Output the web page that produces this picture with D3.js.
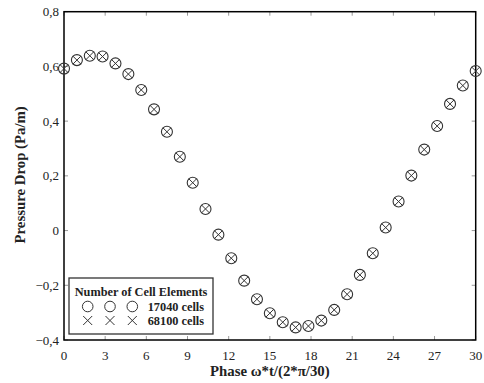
<!DOCTYPE html>
<html>
<head>
<meta charset="utf-8">
<script src="https://cdn.jsdelivr.net/npm/d3@7"></script>
<style>
  body { margin: 0; background: #fff; }
  text { font-family: "Liberation Serif", "Times New Roman", serif; fill: #222; }
</style>
</head>
<body>
<div id="chart"></div>
<script>
// phase positions (33 samples over one period)
const phase = [0, 0.94, 1.88, 2.81, 3.75, 4.69, 5.63, 6.56, 7.5, 8.44, 9.38, 10.31,
  11.25, 12.19, 13.13, 14.06, 15, 15.94, 16.88, 17.81, 18.75, 19.69, 20.63, 21.56,
  22.5, 23.44, 24.38, 25.31, 26.25, 27.19, 28.13, 29.06, 30];

// pressure drop, 17040 cells (circles)
const coarse = [0.592, 0.623, 0.639, 0.636, 0.611, 0.572, 0.514, 0.443, 0.361, 0.270,
  0.175, 0.079, -0.015, -0.101, -0.183, -0.251, -0.302, -0.335, -0.354, -0.349,
  -0.329, -0.290, -0.233, -0.162, -0.083, 0.011, 0.106, 0.201, 0.296, 0.382,
  0.463, 0.530, 0.583];

// pressure drop, 68100 cells (crosses)
const fine = [0.592, 0.623, 0.639, 0.636, 0.611, 0.572, 0.514, 0.443, 0.361, 0.270,
  0.175, 0.079, -0.015, -0.101, -0.183, -0.251, -0.302, -0.335, -0.354, -0.349,
  -0.329, -0.290, -0.233, -0.162, -0.083, 0.011, 0.106, 0.201, 0.296, 0.382,
  0.463, 0.530, 0.583];

const xTicks = [0, 3, 6, 9, 12, 15, 18, 21, 24, 27, 30];
const yTicks = [-0.4, -0.2, 0, 0.2, 0.4, 0.6, 0.8];
const legendTitle = "Number of Cell Elements";
const legendLabels = ["17040 cells", "68100 cells"];

const W = 484, H = 383;
const margin = { top: 11.7, right: 8.3, bottom: 43, left: 64 };
const width = W - margin.left - margin.right;
const height = H - margin.top - margin.bottom;

const svg = d3.select("#chart").append("svg")
  .attr("width", W).attr("height", H);

const g = svg.append("g")
  .attr("transform", `translate(${margin.left},${margin.top})`);

const x = d3.scaleLinear().domain([0, 30]).range([0, width]);
const y = d3.scaleLinear().domain([-0.4, 0.8]).range([height, 0]);

const fmt = d => d3.format("~g")(+d.toFixed(1)).replace(".", ",");

// inner ticks on all four sides
const tickLen = 4;
const tickCol = "#999";
const ticks = g.append("g").attr("stroke", tickCol).attr("stroke-width", 1);
xTicks.forEach(t => {
  ticks.append("line").attr("x1", x(t)).attr("x2", x(t)).attr("y1", height).attr("y2", height - tickLen);
  ticks.append("line").attr("x1", x(t)).attr("x2", x(t)).attr("y1", 0).attr("y2", tickLen);
});
yTicks.forEach(t => {
  ticks.append("line").attr("x1", 0).attr("x2", tickLen).attr("y1", y(t)).attr("y2", y(t));
  ticks.append("line").attr("x1", width).attr("x2", width - tickLen).attr("y1", y(t)).attr("y2", y(t));
});

// tick labels
g.append("g").selectAll("text").data(xTicks).join("text")
  .attr("x", d => x(d)).attr("y", height + 20)
  .attr("text-anchor", "middle")
  .attr("font-size", 13)
  .text(d => d);

g.append("g").selectAll("text").data(yTicks).join("text")
  .attr("x", -5).attr("y", d => y(d)).attr("dy", "0.35em")
  .attr("text-anchor", "end")
  .attr("font-size", 13)
  .text(fmt);

// frame
g.append("rect")
  .attr("width", width).attr("height", height)
  .attr("fill", "none").attr("stroke", "#000").attr("stroke-width", 1.5);

// markers
const r = 5.5;
const a = r * 0.72;
const col = "#333";

g.append("g").selectAll("circle").data(phase).join("circle")
  .attr("cx", d => x(d)).attr("cy", (d, i) => y(coarse[i]))
  .attr("r", r).attr("fill", "none").attr("stroke", col).attr("stroke-width", 1.1);

g.append("g").selectAll("path").data(phase).join("path")
  .attr("transform", (d, i) => `translate(${x(d)},${y(fine[i])})`)
  .attr("d", `M${-a},${-a}L${a},${a}M${-a},${a}L${a},${-a}`)
  .attr("stroke", col).attr("stroke-width", 1);

// axis titles
svg.append("text")
  .attr("x", margin.left + width / 2).attr("y", H - 7)
  .attr("text-anchor", "middle")
  .attr("font-size", 14.8).attr("font-weight", "bold")
  .text("Phase ω*t/(2*π/30)");

svg.append("text")
  .attr("transform", `translate(20,${margin.top + height / 2 - 1}) rotate(-90)`)
  .attr("dy", "0.35em")
  .attr("text-anchor", "middle")
  .attr("font-size", 14.8).attr("font-weight", "bold")
  .text("Pressure Drop (Pa/m)");

// legend
const lg = svg.append("g").attr("transform", "translate(69,278)");
lg.append("rect")
  .attr("width", 144).attr("height", 56)
  .attr("fill", "#fff").attr("stroke", "#333").attr("stroke-width", 1.3);
lg.append("text")
  .attr("x", 72).attr("y", 18)
  .attr("text-anchor", "middle")
  .attr("font-size", 12.3).attr("font-weight", "bold")
  .text(legendTitle);

const mx = [18.7, 41, 63.3];
lg.selectAll(".lc").data(mx).join("circle")
  .attr("class", "lc")
  .attr("cx", d => d).attr("cy", 28.5)
  .attr("r", 5.3).attr("fill", "none").attr("stroke", col).attr("stroke-width", 1);
lg.selectAll(".lx").data(mx).join("path")
  .attr("class", "lx")
  .attr("transform", d => `translate(${d},42.5)`)
  .attr("d", "M-4.5,-4.5L4.5,4.5M-4.5,4.5L4.5,-4.5")
  .attr("stroke", col).attr("stroke-width", 1);

lg.selectAll(".lt").data(legendLabels).join("text")
  .attr("class", "lt")
  .attr("x", 78.7).attr("y", (d, i) => 28.5 + i * 14).attr("dy", "0.35em")
  .attr("font-size", 12.3).attr("font-weight", "bold")
  .text(d => d);
</script>
</body>
</html>
